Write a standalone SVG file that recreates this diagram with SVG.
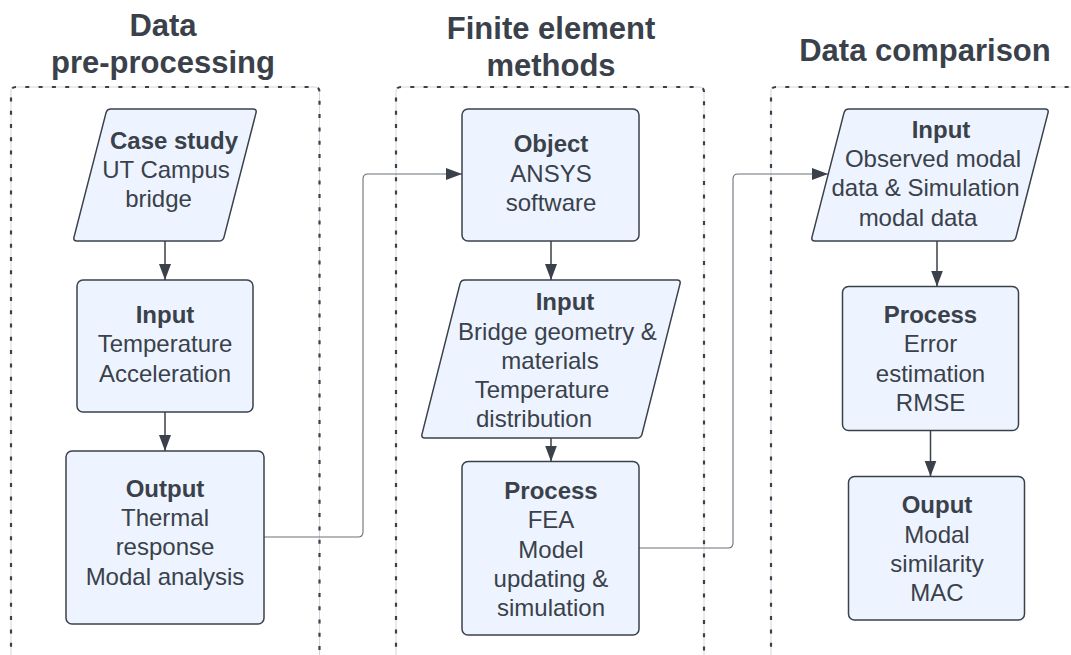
<svg xmlns="http://www.w3.org/2000/svg" width="1071" height="655" viewBox="0 0 1071 655">
  <style>
    text { font-family: "Liberation Sans", Arial, sans-serif; fill: #3a414a; text-anchor: middle; }
    .title { font-size: 31px; font-weight: bold; }
    .body { font-size: 24px; }
    .head { font-size: 24px; font-weight: bold; }
    .node { fill: #edf4ff; stroke: #3a414a; stroke-width: 1.5; }
    .lane-base { fill: none; stroke: #d4d6d9; stroke-width: 1; }
    .lane { fill: none; stroke: #3a414a; stroke-width: 2.2; stroke-dasharray: 4 9.3; }
    .link { fill: none; stroke: #3a414a; stroke-width: 1.5; }
    .wire { fill: none; stroke: #6b7078; stroke-width: 1.1; }
  </style>
  <defs>
    <marker id="arrow" markerUnits="userSpaceOnUse" markerWidth="18" markerHeight="14" refX="16" refY="6" orient="auto">
      <path d="M0,0 L16,6 L0,12 Z" fill="#3a414a"/>
    </marker>
  </defs>

  <rect width="1071" height="655" fill="#ffffff"/>

  <!-- swimlane headings -->
  <g id="lane-titles">
    <text class="title" x="163" y="36">Data</text>
    <text class="title" x="163" y="73">pre-processing</text>
    <text class="title" x="551" y="39">Finite element</text>
    <text class="title" x="551" y="76">methods</text>
    <text class="title" x="925" y="61">Data comparison</text>
  </g>

  <!-- dashed swimlane frames (open at the bottom) -->
  <g id="lanes">
    <path class="lane-base" d="M11,660 V92 Q11,87 16,87 H314.5 Q319.5,87 319.5,92 V660"/>
    <path class="lane" d="M11,660 V92 Q11,87 16,87 H314.5 Q319.5,87 319.5,92 V660"/>
    <path class="lane-base" d="M396,660 V92 Q396,87 401,87 H699 Q704,87 704,92 V660"/>
    <path class="lane" d="M396,660 V92 Q396,87 401,87 H699 Q704,87 704,92 V660"/>
    <path class="lane-base" d="M771,660 V92 Q771,87 776,87 H1080"/>
    <path class="lane" d="M771,660 V92 Q771,87 776,87 H1080"/>
  </g>

  <!-- connectors -->
  <g id="connectors">
    <line class="link" x1="165" y1="241" x2="165" y2="280" marker-end="url(#arrow)"/>
    <line class="link" x1="165" y1="412" x2="165" y2="451" marker-end="url(#arrow)"/>
    <line class="link" x1="551" y1="241" x2="551" y2="280" marker-end="url(#arrow)"/>
    <line class="link" x1="551" y1="438" x2="551" y2="461.5" marker-end="url(#arrow)"/>
    <line class="link" x1="937" y1="241" x2="937" y2="286.5" marker-end="url(#arrow)"/>
    <line class="link" x1="930.5" y1="430.5" x2="930.5" y2="476.5" marker-end="url(#arrow)"/>
    <path class="wire" d="M264,537 H358 Q363,537 363,532 V179 Q363,174 368,174 H462" marker-end="url(#arrow)"/>
    <path class="wire" d="M639,548 H728 Q733,548 733,543 V179 Q733,174 738,174 H828" marker-end="url(#arrow)"/>
  </g>

  <!-- Data pre-processing -->
  <g id="case-study">
    <path class="node" d="M111,109 H253 Q257,109 256,112.9 L224,237.1 Q223,241 219,241 H77 Q73,241 74,237.1 L106,112.9 Q107,109 111,109 Z"/>
    <text class="head" x="174" y="149">Case study</text>
    <text class="body" x="166" y="178">UT Campus</text>
    <text class="body" x="158.5" y="207">bridge</text>
  </g>
  <g id="sensor-input">
    <rect class="node" x="77" y="280" width="176" height="132" rx="6"/>
    <text class="head" x="165" y="322.5">Input</text>
    <text class="body" x="165" y="352">Temperature</text>
    <text class="body" x="165" y="381.5">Acceleration</text>
  </g>
  <g id="pre-output">
    <rect class="node" x="66" y="451" width="198" height="173" rx="6"/>
    <text class="head" x="165" y="497">Output</text>
    <text class="body" x="165" y="526">Thermal</text>
    <text class="body" x="165" y="555">response</text>
    <text class="body" x="165" y="584.5">Modal analysis</text>
  </g>

  <!-- Finite element methods -->
  <g id="fe-object">
    <rect class="node" x="462" y="109" width="177" height="132" rx="6"/>
    <text class="head" x="551" y="152">Object</text>
    <text class="body" x="551" y="181.5">ANSYS</text>
    <text class="body" x="551" y="211">software</text>
  </g>
  <g id="fe-input">
    <path class="node" d="M465,280 H677 Q681,280 680,283.9 L642,434.1 Q641,438 637,438 H425 Q421,438 422,434.1 L460,283.9 Q461,280 465,280 Z"/>
    <text class="head" x="565" y="310">Input</text>
    <text class="body" x="557.5" y="339.5">Bridge geometry &amp;</text>
    <text class="body" x="550" y="368.5">materials</text>
    <text class="body" x="542" y="397.5">Temperature</text>
    <text class="body" x="534" y="427">distribution</text>
  </g>
  <g id="fe-process">
    <rect class="node" x="462" y="461.5" width="177" height="173.5" rx="6"/>
    <text class="head" x="551" y="498.5">Process</text>
    <text class="body" x="551" y="528">FEA</text>
    <text class="body" x="551" y="557.5">Model</text>
    <text class="body" x="551" y="587">updating &amp;</text>
    <text class="body" x="551" y="616">simulation</text>
  </g>

  <!-- Data comparison -->
  <g id="cmp-input">
    <path class="node" d="M849,109 H1045 Q1049,109 1048,112.9 L1016,237.1 Q1015,241 1011,241 H815 Q811,241 812,237.1 L844,112.9 Q845,109 849,109 Z"/>
    <text class="head" x="941" y="138">Input</text>
    <text class="body" x="933" y="167">Observed modal</text>
    <text class="body" x="925.5" y="196">data &amp; Simulation</text>
    <text class="body" x="918" y="225.5">modal data</text>
  </g>
  <g id="cmp-process">
    <rect class="node" x="842.5" y="286.5" width="176" height="144" rx="6"/>
    <text class="head" x="930.5" y="323">Process</text>
    <text class="body" x="930.5" y="352">Error</text>
    <text class="body" x="930.5" y="381.5">estimation</text>
    <text class="body" x="930.5" y="411">RMSE</text>
  </g>
  <g id="cmp-output">
    <rect class="node" x="848.5" y="476.5" width="176" height="143.5" rx="6"/>
    <text class="head" x="937" y="513">Ouput</text>
    <text class="body" x="937" y="542.5">Modal</text>
    <text class="body" x="937" y="572">similarity</text>
    <text class="body" x="937" y="601">MAC</text>
  </g>
</svg>
